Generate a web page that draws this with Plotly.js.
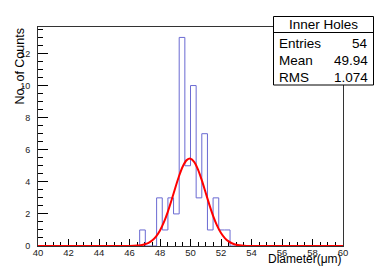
<!DOCTYPE html>
<html>
<head>
<meta charset="utf-8">
<script src="https://cdn.plot.ly/plotly-3.0.1.min.js"></script>
<style>html,body{margin:0;padding:0;background:#fff;}#chart{width:382px;height:273px;}</style>
</head>
<body>
<div id="chart"></div>
<script>
// Histogram: 54 bins from 40 to 60
var xMin = 40, xMax = 60, nBins = 54;
var binCounts = [0,0,0,0,0,0,0,0,0,0,
                 0,0,0,0,0,0,0,0,1,0,
                 0,3,1,3,2,13,5,10,3,7,
                 1,3,1,1,0,0,0,0,0,0,
                 0,0,0,0,0,0,0,0,0,0,
                 0,0,0,0];
// Gaussian fit curve
var fitX = [40, 45, 46, 46.5, 46.75, 47, 47.25, 47.5, 47.75, 48, 48.25, 48.5, 48.75, 49, 49.25, 49.5, 49.75,
            50, 50.25, 50.5, 50.75, 51, 51.25, 51.5, 51.75, 52, 52.25, 52.5, 52.75, 53, 53.5, 54, 55, 60];
var fitY = [0, 0, 0.005, 0.025, 0.052, 0.105, 0.20, 0.358, 0.607, 0.972, 1.469, 2.10, 2.836, 3.619, 4.364, 4.972, 5.352,
            5.444, 5.232, 4.751, 4.077, 3.306, 2.533, 1.833, 1.254, 0.81, 0.495, 0.285, 0.156, 0.08, 0.018, 0.003, 0, 0];
var statTitle = "Inner Holes";
var statLabels = ["Entries", "Mean", "RMS"];
var statValues = ["54", "49.94", "1.074"];

var bw = (xMax - xMin) / nBins;
var hx = [], hy = [];
for (var i = 0; i < nBins; i++) { hx.push(xMin + i * bw); hy.push(binCounts[i]); }
hx.push(xMax); hy.push(binCounts[nBins - 1]);

var traces = [
  {x: hx, y: hy, mode: 'lines', line: {shape: 'hv', color: '#6a6ad2', width: 1}, hoverinfo: 'skip'},
  {x: fitX, y: fitY, mode: 'lines', line: {shape: 'spline', smoothing: 0.6, color: '#ff0000', width: 2}, hoverinfo: 'skip'}
];

var W = 305, H = 219, L = 38, T = 27;
function px2x(p) { return (p - L) / W; }
function py2y(p) { return (T + H - p) / H; }

var fnt = 'Liberation Sans, Arial, Helvetica, sans-serif';
var annotations = [
  {text: 'No. of Counts', xref: 'paper', yref: 'paper', x: px2x(19.5), y: py2y(27), xanchor: 'center', yanchor: 'top',
   textangle: -90, showarrow: false, font: {family: fnt, size: 12.5, color: '#000'}},
  {text: 'Diameter(\u03bcm)', xref: 'paper', yref: 'paper', x: px2x(343.5), y: py2y(258.5), xanchor: 'right', yanchor: 'middle',
   showarrow: false, font: {family: fnt, size: 12, color: '#000'}},
  {text: statTitle, xref: 'paper', yref: 'paper', x: px2x(323.3), y: py2y(25), xanchor: 'center', yanchor: 'middle',
   showarrow: false, font: {family: fnt, size: 13.5, color: '#000'}}
];
var rowY = [43, 60.5, 77];
for (var k = 0; k < statLabels.length; k++) {
  annotations.push({text: statLabels[k], xref: 'paper', yref: 'paper', x: px2x(276.5), y: py2y(rowY[k]), xanchor: 'left', yanchor: 'middle',
    showarrow: false, font: {family: fnt, size: 13.5, color: '#000'}});
  annotations.push({text: statValues[k], xref: 'paper', yref: 'paper', x: px2x(370), y: py2y(rowY[k]), xanchor: 'right', yanchor: 'middle',
    showarrow: false, font: {family: fnt, size: 13.5, color: '#000'}});
}

var shapes = [
  {type: 'rect', xref: 'paper', yref: 'paper', x0: px2x(273.5), x1: px2x(373.5), y0: py2y(85), y1: py2y(16.5),
   fillcolor: '#fff', line: {color: '#000', width: 1}},
  {type: 'line', xref: 'paper', yref: 'paper', x0: px2x(273.5), x1: px2x(373.5), y0: py2y(32.5), y1: py2y(32.5),
   line: {color: '#000', width: 1}}
];

var layout = {
  width: 382, height: 273,
  margin: {l: L, r: 382 - L - W, t: T, b: 273 - T - H, pad: 0},
  paper_bgcolor: '#fff', plot_bgcolor: '#fff',
  showlegend: false,
  xaxis: {range: [xMin, xMax], dtick: 2, tick0: 40, ticks: 'inside', ticklen: 7, tickcolor: '#000', tickwidth: 1,
    minor: {dtick: 0.5, ticks: 'inside', ticklen: 4, tickcolor: '#000', showgrid: false},
    showgrid: false, zeroline: false, showline: true, mirror: true, linecolor: '#333', linewidth: 1,
    layer: 'below traces', ticklabelstandoff: -2,
    tickfont: {family: fnt, size: 9.5, color: '#222'}, fixedrange: true},
  yaxis: {range: [0, 13.65], dtick: 2, tick0: 0, ticks: 'inside', ticklen: 10, tickcolor: '#000', tickwidth: 1,
    minor: {dtick: 0.5, ticks: 'inside', ticklen: 5, tickcolor: '#000', showgrid: false},
    showgrid: false, zeroline: false, showline: true, mirror: true, linecolor: '#333', linewidth: 1,
    layer: 'below traces', ticklabelstandoff: 5,
    tickfont: {family: fnt, size: 9, color: '#222'}, fixedrange: true},
  annotations: annotations,
  shapes: shapes
};

Plotly.newPlot('chart', traces, layout, {staticPlot: true, displayModeBar: false});
</script>
</body>
</html>
